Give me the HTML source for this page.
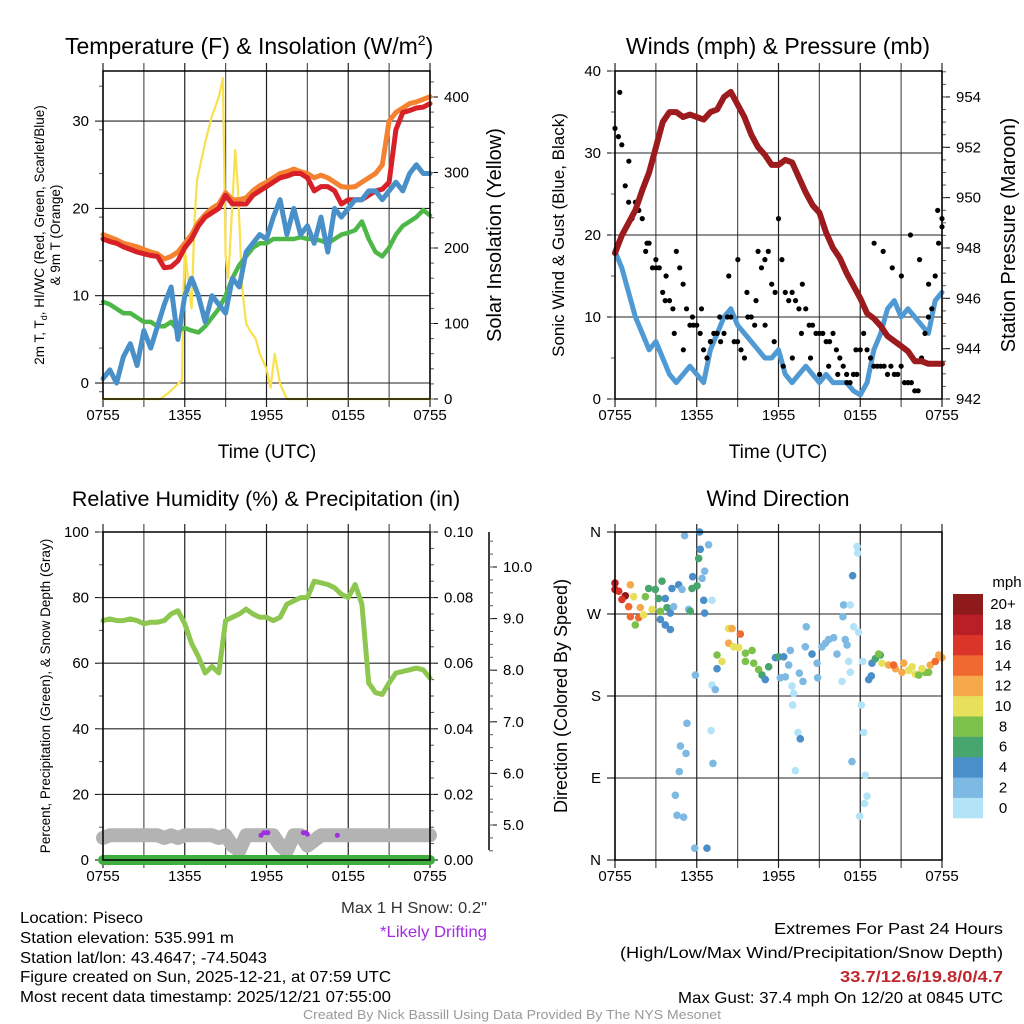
<!DOCTYPE html>
<html><head><meta charset="utf-8">
<style>
html,body{margin:0;padding:0;background:#fff;}
svg{display:block;font-family:"Liberation Sans",sans-serif;}
</style></head>
<body>
<svg id="fig" xmlns="http://www.w3.org/2000/svg" width="1024" height="1024" viewBox="0 0 1024 1024"></svg>
<script>
// ---------- DATA ----------
const xTickLabels = ["0755","1355","1955","0155","0755"];
// temperature panel (half-hour samples, 0..24 h)
const temp2m = [16.5,16.2,16,15.6,15.3,15,14.8,14.6,14.5,13.2,13.3,14,15.5,16.5,18,19,19.5,20,21.5,20.5,20.5,20.5,21.5,22,22.5,23,23.5,23.7,24,24,23.5,22,22.5,22.5,22,20.5,21,21,21,21.5,22,22.2,23,29,31,31.2,31.5,31.6,32,32.2,32.5,33,33.6,34,33.5].slice(0,49);
const temp9m = [17,16.7,16.4,16,15.8,15.6,15.3,15,14.8,14.2,14.5,15,16,17,18.4,19.3,20,20.5,21.8,21,21,21.2,22,22.6,23,23.5,24,24.2,24.5,24.2,24,23.5,23.8,23.5,23,22.5,22.4,22.5,23,23.5,24,25,30,31,31.5,32,32.2,32.5,32.8,33,33.5,34.3,34.5].slice(0,49);
const dewpt = [9.3,9,8.5,8,8,7.5,7,7,6.5,6.5,7,6,6.3,6,5.8,6.5,7.5,8.5,10,12,13.5,14.5,15.5,16,16,16.5,16.5,16.5,16.5,16.7,16.5,16.5,16.3,16,16.5,17,17.2,17.5,18.5,16.5,15,14.5,15.5,17,18,18.5,19,19.8,19.2];
const windChill = [0.5,1.5,0,3,4.5,2,6,4,6.5,9,11,5,10,12,10,7,10,9,8,12,11,15,16,17,16.5,19,21,17,20,17,18,16,19,15,20,19,20,21,21,22,22,21,22,23,22,24,25,24,24];
const solarHours = [0,4.2,4.8,5.8,5.9,6.0,6.3,6.5,6.7,6.9,7.5,8,8.5,8.8,9.0,9.2,9.5,9.7,9.9,10.2,10.5,10.8,11.2,11.5,12,12.3,12.6,13,13.5,24];
const solar = [0,0,8,25,140,200,150,120,230,290,340,375,400,425,190,160,260,330,280,150,100,90,80,60,40,15,60,20,0,0];
// winds panel
const windSpd = [18,16,13,10,8,6,7,5,3,2,3,4,3,2,6,8,10,11,9,8,7,6,5,5,6,3,2,3,4,3,2,3,2,2,2,1,0.5,2,6,8,11,12,10,11,10,9,8,12,13];
const gusts = [33,32,31,26,24,22,24,23,22,18,19,16,17,16,13,15,12,11,18,16,14,11,9,9,9,8,6,5,7,8,8,7,8,10,10,7,7,6,5,10,10,9,18,16,17,18,14,13,22,17,13,12,13,12,11,14,11,9,9,8,8,8,7,7,8,6,5,4,3,2,3,3,6,8,6,5,4,4,4,4,3,4,3,3,4,2,2,2,1,1,5,8,10,11,15,19,21];
const gustsB = [37.4,29,24,19,16,12,8,6,10,11,7,10,15,17,13,12,9,7,4,5,8,5,3,4,3,2,6,11,19,18,16,15,20,17,14,23,22];
const pressure = [947.8,948.5,949,949.5,950.3,951,952,953,953.4,953.4,953.2,953.3,953.2,953.1,953.4,953.5,954,954.2,953.7,953.2,952.5,952,951.7,951.3,951.3,951.5,951.4,950.8,950.2,949.7,949.4,948.6,948,947.6,947,946.5,946,945.4,945.2,944.9,944.5,944.3,944.1,943.9,943.5,943.5,943.4,943.4,943.4];
// RH panel
const rh = [73,73.5,73,73,73.5,73,72,72.5,72.5,73,75,76,72,66,62,57,59,57,73,74,75,76.5,75,74,74,73,74,78,79,80,80,85,84.5,84,83,81,80,84,78,54,51,50.5,54,57,57.5,58,58.5,58,55.5];
const snowDepth = [4.75,4.8,4.8,4.8,4.8,4.8,4.8,4.8,4.8,4.75,4.8,4.75,4.8,4.8,4.8,4.8,4.8,4.75,4.8,4.6,4.5,4.8,4.8,4.8,4.8,4.8,4.6,4.5,4.8,4.8,4.6,4.7,4.8,4.8,4.8,4.8,4.8,4.8,4.8,4.8,4.8,4.8,4.8,4.8,4.8,4.8,4.8,4.8,4.8];
const precip = [0,0,0,0,0,0,0,0,0,0,0,0,0,0,0,0,0,0,0,0,0,0,0,0,0,0,0,0,0,0,0,0,0,0,0,0,0,0,0,0,0,0,0,0,0,0,0,0,0];
const driftHours = [11.6,11.8,12,12.1,14.7,14.9,15.0,17.2];
const driftDepth = [4.8,4.85,4.85,4.85,4.85,4.85,4.82,4.8];
// direction panel
const dirHours = [0,0,0.27,0.76,0.51,1,1.13,1.74,1.49,1.86,2.1,1.13,1.37,2.23,2.47,2.96,3.45,3.2,2.72,3.33,3.82,3.69,4.18,4.67,4.92,4.06,3.33,3.69,4.06,4.3,5.41,5.65,6.02,6.14,6.26,6.21,6.87,5.11,6.58,6.39,5.7,6.51,7.12,6.58,5.53,5.9,5.28,4.8,5.21,4.72,4.43,4.55,5.04,5.85,6.75,7.12,7.36,7.05,7.19,7.49,7.49,7.85,8.34,8.59,9.2,8.34,8.71,9.08,9.57,10.06,9.57,10.18,10.54,10.79,11.03,11.28,11.77,12.01,12.38,12.87,12.75,12.5,12.13,12.99,13.11,13.04,13.43,13.6,13.24,13.53,13.8,13.97,14.04,14.46,14.83,14.87,15.19,15.44,15.68,16.05,16.29,16.66,16.9,17.03,17.15,17.27,16.78,17.27,16.73,17.52,17.88,17.44,17.76,17.81,18.08,18.25,17.39,18.37,18.5,18.32,17.96,18.18,18.62,18.81,18.86,19.11,19.47,19.6,20.09,20.58,21.06,21.55,22.04,22.29,22.78,23.14,23.51,23.76,24,21.19,20.45,21.8,22.53,19.35,23.02];
const dirDeg = [304,297,295,290,286,278,267,266,258,277,269,302,289,289,298,297,306,287,275,273,277,287,298,302,297,271,264,258,253,278,275,298,301,331,341,360,346,356,317,309,311,285,285,271,273,203,150,125,117,97,71,49,47,13,13,192,187,142,106,225,210,218,254,254,248,238,234,233,227,230,218,216,209,203,198,212,222,223,223,230,214,201,200,191,183,170,140,133,98,205,196,234,256,226,216,200,234,238,242,244,226,196,242,236,218,206,280,280,267,256,250,312,344,337,170,140,108,93,70,62,48,218,198,202,216,221,225,216,214,210,206,208,204,203,206,214,218,225,222,216,214,212,210,226,206];
const dirSpd = [18,18,16,20,16,14,14,14,8,12,10,12,10,8,6,6,6,6,10,8,6,4,4,4,2,4,4,4,4,2,2,6,6,6,4,4,2,2,2,2,4,4,0,4,6,2,2,2,2,2,2,2,2,2,4,0,2,0,2,8,4,10,10,12,14,12,10,10,8,8,8,8,8,6,4,6,4,6,4,2,2,2,2,0,0,0,0,4,0,2,2,2,2,4,2,2,2,2,2,2,2,0,2,2,0,0,2,0,2,0,0,4,0,0,0,0,2,0,0,0,0,0,4,4,4,6,6,10,12,12,12,10,10,8,8,12,14,12,12,12,14,10,10,8,8];
const cbarLabels = ["20+","18","16","14","12","10","8","6","4","2","0"];
const cbarColors = ["#b3e3f6","#7db9e3","#4a8fc9","#47a56e","#7cc14a","#e6e05a","#f6a94a","#ef6930","#da3528","#b91f26","#8f1a1c"];

// ---------- HELPERS ----------
const NS = "http://www.w3.org/2000/svg";
const svg = document.getElementById("fig");
function mk(tag, attrs, parent){ const e=document.createElementNS(NS,tag); for(const k in attrs) e.setAttribute(k,attrs[k]); (parent||svg).appendChild(e); return e; }
function txt(s, attrs, parent){ const e=mk("text",attrs,parent); e.textContent=s; return e; }
function hoursOf(arr){ return arr.map((_,i)=>i*24/(arr.length-1)); }

const L=103, R=430, L2=615, R2=942;
function xs(h, left){ return left + h*(327/24); }

function panelFrame(left, top, bottom, name){
  const g = mk("g",{});
  
  
  for(let i=0;i<=8;i++){
    const x = xs(i*3,left);
    const l = mk("line",{x1:x,x2:x,y1:top-8,y2:bottom+8,stroke:(i%2? "#555":"#222"),"stroke-width":1.2},g);
    
    
  }
  xTickLabels.forEach((s,i)=>{
    const t = txt(s,{x:xs(i*6,left),y:bottom+21,"text-anchor":"middle","font-size":15},g);
    
    
  });
  return g;
}
function box(left, top, bottom, g){
  mk("rect",{x:left,y:top,width:327,height:bottom-top,fill:"none",stroke:"#000","stroke-width":1.5},g);
}
function yAxis(g, x, top, bottom, ticks, yfun, labels, side, minor, gridLeft){
  ticks.forEach((v,i)=>{
    const y = yfun(v);
    if(gridLeft!==undefined) mk("line",{x1:gridLeft,x2:gridLeft+327,y1:y,y2:y,stroke:"#222","stroke-width":1.1},g);
    mk("line",{x1:x,x2:x+(side<0?-8:8),y1:y,y2:y,stroke:"#000","stroke-width":1},g);
    const t = txt(labels[i],{x:x+(side<0?-14:14),y:y+5,"text-anchor":side<0?"end":"start","font-size":15},g);
    
    
  });
  minor.forEach(v=>{ const y=yfun(v); if(y>=top-1&&y<=bottom+1) mk("line",{x1:x,x2:x+(side<0?-4:4),y1:y,y2:y,stroke:"#555","stroke-width":1},g); });
}
function polyline(g, hs, vals, left, yfun, color, w, name){
  const pts = vals.map((v,i)=>xs(hs[i],left).toFixed(1)+","+yfun(v).toFixed(1)).join(" ");
  const p = mk("polyline",{points:pts,fill:"none",stroke:color,"stroke-width":w,"stroke-linejoin":"round","stroke-linecap":"round"},g);
  
  
  return p;
}
function range(a,b,s){ const r=[]; for(let v=a; v<=b+1e-9; v+=s) r.push(+v.toFixed(4)); return r; }

// ---------- PANEL 1: temperature ----------
(function(){
  const top=71, bottom=399;
  const yT = v=>383 - v*8.73;
  const yS = v=>399 - v*0.755;
  const g = panelFrame(L, top, bottom, "temperature-panel");
  yAxis(g, L, top, bottom, [0,10,20,30], yT, ["0","10","20","30"], -1, range(-1,35,5), L);
  yAxis(g, R, top, bottom, [0,100,200,300,400], yS, ["0","100","200","300","400"], 1, range(0,420,20));
  polyline(g, solarHours, solar, L, yS, "#f9e04d", 2.2, "solar-insolation-line");
  polyline(g, hoursOf(dewpt), dewpt, L, yT, "#4db848", 4.5, "dewpoint-line");
  polyline(g, hoursOf(temp9m), temp9m, L, yT, "#f58230", 5, "temp-9m-line");
  polyline(g, hoursOf(temp2m), temp2m, L, yT, "#d72027", 5, "temp-2m-line");
  polyline(g, hoursOf(windChill), windChill, L, yT, "#4a90c8", 5, "wind-chill-line");
  box(L, top, bottom, g);
  const t1 = txt("Temperature (F) & Insolation (W/m",{x:65,y:54,"font-size":23},g);
  const sup = mk("tspan",{"font-size":14,dy:-9},t1); sup.textContent="2";
  const t2 = mk("tspan",{"font-size":23,dy:9},t1); t2.textContent=")";
   
  const yt = txt("",{transform:"translate(44,235) rotate(-90)","text-anchor":"middle","font-size":13.5},g);
   
  const a=mk("tspan",{x:0,y:0},yt); a.textContent="2m T, T";
  const b=mk("tspan",{"font-size":9,dy:3},yt); b.textContent="d";
  const c=mk("tspan",{dy:-3},yt); c.textContent=", HI/WC (Red, Green, Scarlet/Blue)";
  const d=mk("tspan",{x:0,y:16},yt); d.textContent="& 9m T (Orange)";
  const yr = txt("Solar Insolation (Yellow)",{transform:"translate(501,235) rotate(-90)","text-anchor":"middle","font-size":20},g);
   
  const xt = txt("Time (UTC)",{x:267,y:458,"text-anchor":"middle","font-size":19},g);
   
})();

// ---------- PANEL 2: winds ----------
(function(){
  const top=71, bottom=399;
  const yW = v=>399 - v*8.2;
  const yP = v=>399 - (v-942)*25.17;
  const g = panelFrame(L2, top, bottom, "winds-panel");
  yAxis(g, L2, top, bottom, [0,10,20,30,40], yW, ["0","10","20","30","40"], -1, range(0,40,5), L2);
  yAxis(g, R2, top, bottom, [942,944,946,948,950,952,954], yP, ["942","944","946","948","950","952","954"], 1, range(942,955,0.5));
  polyline(g, hoursOf(windSpd), windSpd, L2, yW, "#4f9ad4", 5, "wind-speed-line");
  const gh = hoursOf(gusts);
  gusts.forEach((v,i)=>{
    const c = mk("circle",{cx:xs(gh[i],L2),cy:yW(v),r:2.6,fill:"#000"},g);
     
  });
  const gb = hoursOf(gustsB);
  gustsB.forEach((v,i)=>{
    const c = mk("circle",{cx:xs(gb[i]+0.35>24?gb[i]:gb[i]+0.35,L2),cy:yW(v),r:2.6,fill:"#000"},g);
     
  });
  polyline(g, hoursOf(pressure), pressure, L2, yP, "#9b1b1e", 6, "pressure-line");
  box(L2, top, bottom, g);
  const t = txt("Winds (mph) & Pressure (mb)",{x:778,y:54,"text-anchor":"middle","font-size":23},g);
   
  const yl = txt("Sonic Wind & Gust (Blue, Black)",{transform:"translate(564,235) rotate(-90)","text-anchor":"middle","font-size":17},g);
   
  const yr = txt("Station Pressure (Maroon)",{transform:"translate(1015,235) rotate(-90)","text-anchor":"middle","font-size":20},g);
   
  const xt = txt("Time (UTC)",{x:778,y:458,"text-anchor":"middle","font-size":19},g);
   
})();

// ---------- PANEL 3: RH ----------
(function(){
  const top=532, bottom=860;
  const yR = v=>860 - v*3.28;
  const yPr = v=>860 - v*3280;
  const yS = v=>825 - (v-5)*51.6;
  const g = panelFrame(L, top, bottom, "humidity-panel");
  yAxis(g, L, top, bottom, [0,20,40,60,80,100], yR, ["0","20","40","60","80","100"], -1, range(0,100,10), L);
  yAxis(g, R, top, bottom, [0,0.02,0.04,0.06,0.08,0.10], yPr, ["0.00","0.02","0.04","0.06","0.08","0.10"], 1, range(0,0.1,0.005));
  mk("line",{x1:489,x2:489,y1:top,y2:bottom-10,stroke:"#000","stroke-width":1.5},g);
  yAxis(g, 489, top, bottom, [5,6,7,8,9,10], yS, ["5.0","6.0","7.0","8.0","9.0","10.0"], 1, range(4.5,10.6,0.25));
  polyline(g, hoursOf(snowDepth), snowDepth, L, yS, "#b3b3b3", 14, "snow-depth-line");
  driftHours.forEach((h,i)=>{
    const c = mk("circle",{cx:xs(h,L),cy:yS(driftDepth[i]),r:2.5,fill:"#a12de0"},g);
     
  });
  polyline(g, hoursOf(precip), precip, L, yPr, "#3fae3f", 10, "precip-line");
  polyline(g, hoursOf(rh), rh, L, yR, "#8dc74f", 5, "rh-line");
  box(L, top, bottom, g);
  const t = txt("Relative Humidity (%) & Precipitation (in)",{x:266,y:506,"text-anchor":"middle","font-size":21.5},g);
   
  const yl = txt("Percent, Precipitation (Green), & Snow Depth (Gray)",{transform:"translate(50,696) rotate(-90)","text-anchor":"middle","font-size":13.5},g);
   
})();

// ---------- PANEL 4: direction ----------
(function(){
  const top=532, bottom=860;
  const yD = v=>860 - v*(328/360);
  const g = panelFrame(L2, top, bottom, "direction-panel");
  yAxis(g, L2, top, bottom, [0,90,180,270,360], yD, ["N","E","S","W","N"], -1, [], L2);
  dirHours.forEach((h,i)=>{
    const bin = Math.min(10, Math.floor(dirSpd[i]/2));
    const c = mk("circle",{cx:xs(h,L2),cy:yD(dirDeg[i]),r:3.8,fill:cbarColors[bin]},g);
     
  });
  box(L2, top, bottom, g);
  const t = txt("Wind Direction",{x:778,y:506,"text-anchor":"middle","font-size":22},g);
   
  const yl = txt("Direction (Colored By Speed)",{transform:"translate(567,696) rotate(-90)","text-anchor":"middle","font-size":18},g);
   
  const cb = mk("g",{},g);
   
  const n = cbarColors.length, h = 224/n;
  for(let i=0;i<n;i++){
    mk("rect",{x:953,y:818-(i+1)*h,width:30,height:h+0.3,fill:cbarColors[i]},cb);
  }
  cbarLabels.forEach((s,i)=>{
    txt(s,{x:1003,y:594+h*i+h/2+5,"text-anchor":"middle","font-size":15},cb);
  });
  txt("mph",{x:1007,y:587,"text-anchor":"middle","font-size":15},cb);
})();

// ---------- FOOTER ----------
function ft(s, x, y, anchor, len, size, fill, weight, name){
  const t = txt(s,{x:x,y:y,"text-anchor":anchor,"font-size":size,fill:fill||"#000","font-weight":weight||"normal",textLength:len,lengthAdjust:"spacingAndGlyphs"});
  
  
}
ft("Location: Piseco",20,923,"start",123,16,null,null,"location-text");
ft("Station elevation: 535.991 m",20,943,"start",214,16,null,null,"elevation-text");
ft("Station lat/lon: 43.4647; -74.5043",20,963,"start",247,16,null,null,"latlon-text");
ft("Figure created on Sun, 2025-12-21, at 07:59 UTC",20,982,"start",371,16,null,null,"created-text");
ft("Most recent data timestamp: 2025/12/21 07:55:00",20,1002,"start",371,16,null,null,"timestamp-text");
ft("Max 1 H Snow: 0.2\"",487,913,"end",146,16,"#333",null,"max-snow-text");
ft("*Likely Drifting",487,937,"end",107,16,"#a12de0",null,"drifting-note");
ft("Extremes For Past 24 Hours",1003,934,"end",229,16,null,null,"extremes-title");
ft("(High/Low/Max Wind/Precipitation/Snow Depth)",1003,958,"end",383,16,null,null,"extremes-subtitle");
ft("33.7/12.6/19.8/0/4.7",1003,982,"end",163,16,"#c0272d","bold","extremes-values");
ft("Max Gust: 37.4 mph On 12/20 at 0845 UTC",1003,1003,"end",325,16,null,null,"max-gust-text");
ft("Created By Nick Bassill Using Data Provided By The NYS Mesonet",512,1019,"middle",418,13,"#999",null,"credit-text");
</script>
</body></html>
